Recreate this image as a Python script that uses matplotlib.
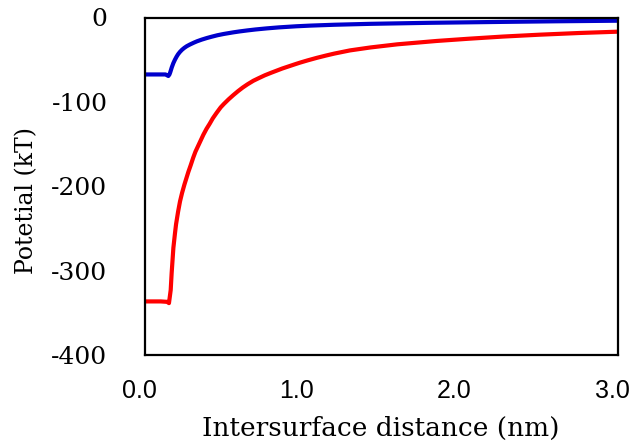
import matplotlib
matplotlib.use("Agg")
import matplotlib.pyplot as plt
from matplotlib.transforms import ScaledTranslation

# values
red_x = [0.00, 0.05, 0.10, 0.14, 0.152, 0.163, 0.169, 0.180, 0.19, 0.197, 0.21,
         0.222, 0.235, 0.25, 0.26, 0.275, 0.29, 0.306, 0.32, 0.34, 0.355, 0.37,
         0.39, 0.41, 0.43, 0.455, 0.48, 0.50, 0.53, 0.56, 0.59, 0.62, 0.65,
         0.687, 0.72, 0.76, 0.80, 0.835, 0.87, 0.91, 0.95, 0.983, 1.03, 1.09,
         1.15, 1.2, 1.3, 1.43, 1.6, 1.85, 2.05, 2.27, 2.5, 2.75, 3.0]
red_y = [-336.5, -336.5, -336.5, -337, -338.5, -323, -303, -273, -256, -245, -230,
         -218, -208, -198, -192, -183, -175, -166, -159, -151, -145, -139,
         -132, -126, -119.5, -112.8, -106.5, -102.5, -97, -92, -87.3, -83, -79.2,
         -75, -72, -68.5, -65.5, -63, -60.5, -58, -55.5, -53.5, -50.9, -47.8,
         -45, -42.8, -39, -35.5, -31.8, -27.8, -25.2, -22.6, -20.4, -18.4, -16.8]

blue_x = [0.00, 0.07, 0.13, 0.148, 0.155, 0.16, 0.165, 0.17, 0.180, 0.19, 0.20,
          0.21, 0.222, 0.235, 0.25, 0.265, 0.285, 0.31, 0.33, 0.36, 0.391, 0.42,
          0.46, 0.50, 0.56, 0.60, 0.65, 0.70, 0.772, 0.85, 0.96, 1.05, 1.2,
          1.43, 1.8, 2.27, 2.6, 3.0]
blue_y = [-67.5, -67.5, -67.5, -69.3, -67.5, -65, -62, -59, -54, -50, -46.5,
          -43.5, -40.7, -38.2, -35.9, -34, -32, -29.8, -28.2, -26.2, -24.4, -22.9,
          -21, -19.5, -17.6, -16.5, -15.3, -14.2, -12.9, -11.7, -10.4, -9.6, -8.6,
          -7.5, -6.3, -5.2, -4.5, -3.8]

xticks = [0.0, 1.0, 2.0, 3.0]
xtick_labels = ["0.0", "1.0", "2.0", "3.0"]
yticks = [0, -100, -200, -300, -400]
ytick_labels = ["0", "-100", "-200", "-300", "-400"]

plt.rcParams['axes.unicode_minus'] = False

fig = plt.figure(figsize=(6.34, 4.45), dpi=100)
ax = fig.add_axes([145 / 634, 1 - 355 / 445, 473 / 634, 337.5 / 445])

ax.plot(red_x, red_y, color="#ff0000", lw=3, solid_joinstyle="round")
ax.plot(blue_x, blue_y, color="#0000cc", lw=3, solid_joinstyle="round")

ax.set_xlim(0, 3.0)
ax.set_ylim(-400, 0)
ax.set_xticks(xticks)
ax.set_xticklabels(xtick_labels, fontfamily="Liberation Sans", fontsize=18)
ax.set_yticks(yticks)
ax.set_yticklabels(ytick_labels, fontfamily="DejaVu Serif", fontsize=18)
ax.tick_params(axis="x", length=0, pad=17)
ax.tick_params(axis="y", length=0, pad=27)
for lab in ax.get_xticklabels():
    lab.set_transform(lab.get_transform() + ScaledTranslation(-0.06, 0, fig.dpi_scale_trans))

for s in ax.spines.values():
    s.set_linewidth(1.6)
    s.set_color("black")

fig.text(381 / 634, 1 - 428 / 445, "Intersurface distance (nm)", ha="center", va="center",
         fontfamily="DejaVu Serif", fontsize=19)
fig.text(27 / 634, 1 - 201 / 445, "Potetial (kT)", ha="center", va="center",
         rotation=90, fontfamily="DejaVu Serif", fontsize=17)

fig.savefig("out.png", dpi=100)
